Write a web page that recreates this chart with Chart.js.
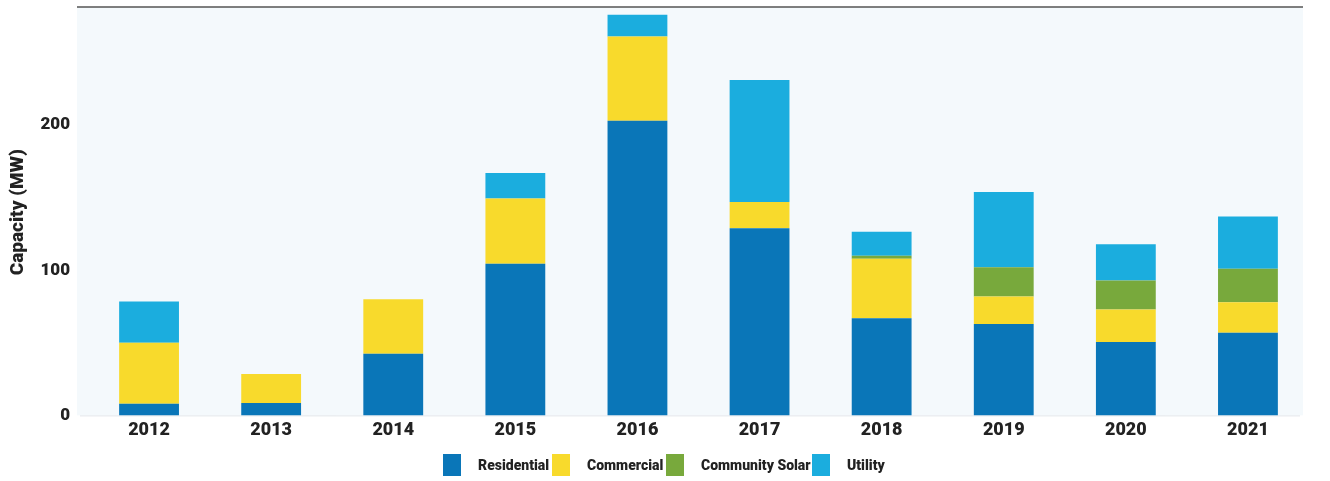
<!DOCTYPE html>
<html><head><meta charset="utf-8">
<script src="https://cdn.jsdelivr.net/npm/chart.js@4/dist/chart.umd.min.js"></script>
<style>
html,body{margin:0;padding:0;background:#fff;}
#wrap{position:relative;width:1330px;height:481px;}
canvas{position:absolute;left:0;top:0;}
#legend{position:absolute;left:0;top:454px;width:1330px;height:22px;font-family:Roboto,"Liberation Sans",sans-serif;font-weight:900;font-size:14px;color:#222;}
.item{display:flex;align-items:center;position:absolute;top:0;height:22px;}
.box{width:18px;height:22px;margin-right:17px;}
</style></head>
<body><div id="wrap"><canvas id="c" width="1330" height="481"></canvas><div id="legend"></div></div>
<script>
const years = ["2012","2013","2014","2015","2016","2017","2018","2019","2020","2021"];
const residential = [8, 8.5, 42.5, 104.5, 203, 129, 67, 63, 50.5, 57];
const commercial = [42, 20, 37.5, 45, 58, 18, 41, 19, 22.5, 21];
const communitySolar = [0, 0, 0, 0, 0, 0, 2, 20, 20, 23];
const utility = [28.5, 0, 0, 17.5, 15, 84, 16.5, 52, 25, 36];
const seriesNames = ["Residential","Commercial","Community Solar","Utility"];
const seriesColors = ["#0a76b8","#f8da2c","#78a93c","#1badde"];
const yTicks = [0, 100, 200];

const FONT = "Roboto, 'Liberation Sans', sans-serif";

const bgPlugin = {
  id: 'bg',
  beforeDraw(chart) {
    const ctx = chart.ctx, a = chart.chartArea;
    ctx.save();
    ctx.fillStyle = '#f4f9fc';
    ctx.fillRect(77, 7, 1226, a.bottom - 7);
    ctx.strokeStyle = '#555';
    ctx.lineWidth = 1.5;
    ctx.beginPath(); ctx.moveTo(77, 7); ctx.lineTo(1303, 7); ctx.stroke();
    ctx.strokeStyle = '#e2e6ea';
    ctx.lineWidth = 1;
    ctx.beginPath(); ctx.moveTo(80, a.bottom + 0.5); ctx.lineTo(1300, a.bottom + 0.5); ctx.stroke();
    ctx.restore();
  }
};

const data = [residential, commercial, communitySolar, utility];
new Chart(document.getElementById('c'), {
  type: 'bar',
  data: {
    labels: years,
    datasets: seriesNames.map((n, i) => ({
      label: n, data: data[i], backgroundColor: seriesColors[i],
      borderWidth: 0, barPercentage: 0.98, categoryPercentage: 0.5
    }))
  },
  options: {
    responsive: false, animation: false,
    layout: { padding: { top: 9, right: 21, bottom: 36, left: 0 } },
    plugins: { legend: { display: false }, tooltip: { enabled: false } },
    scales: {
      x: {
        stacked: true,
        afterFit(scale) { scale.paddingLeft = 0; scale.paddingRight = 0; },
        grid: { display: false, drawTicks: false },
        border: { display: false },
        ticks: { padding: 4, color: '#222', font: { family: FONT, size: 18, weight: 900 } }
      },
      y: {
        stacked: true, min: 0, max: 280,
        afterBuildTicks(scale) { scale.ticks = yTicks.map(v => ({ value: v })); },
        afterFit(scale) { scale.width = 88; scale.paddingTop = 0; scale.paddingBottom = 0; },
        grid: { display: false, drawTicks: false },
        border: { display: false },
        ticks: { padding: 18, color: '#222', font: { family: FONT, size: 17, weight: 900 } },
        title: { display: true, text: 'Capacity (MW)', color: '#222', padding: { top: 7, bottom: 0 },
                 font: { family: FONT, size: 19, weight: 900 } }
      }
    }
  },
  plugins: [bgPlugin]
});

const legendX = [443, 552, 666, 812];
const lg = document.getElementById('legend');
seriesNames.forEach((n, i) => {
  const it = document.createElement('div'); it.className = 'item'; it.style.left = legendX[i] + 'px';
  const b = document.createElement('div'); b.className = 'box'; b.style.background = seriesColors[i];
  const t = document.createElement('span'); t.textContent = n;
  it.appendChild(b); it.appendChild(t); lg.appendChild(it);
});
</script></body></html>
